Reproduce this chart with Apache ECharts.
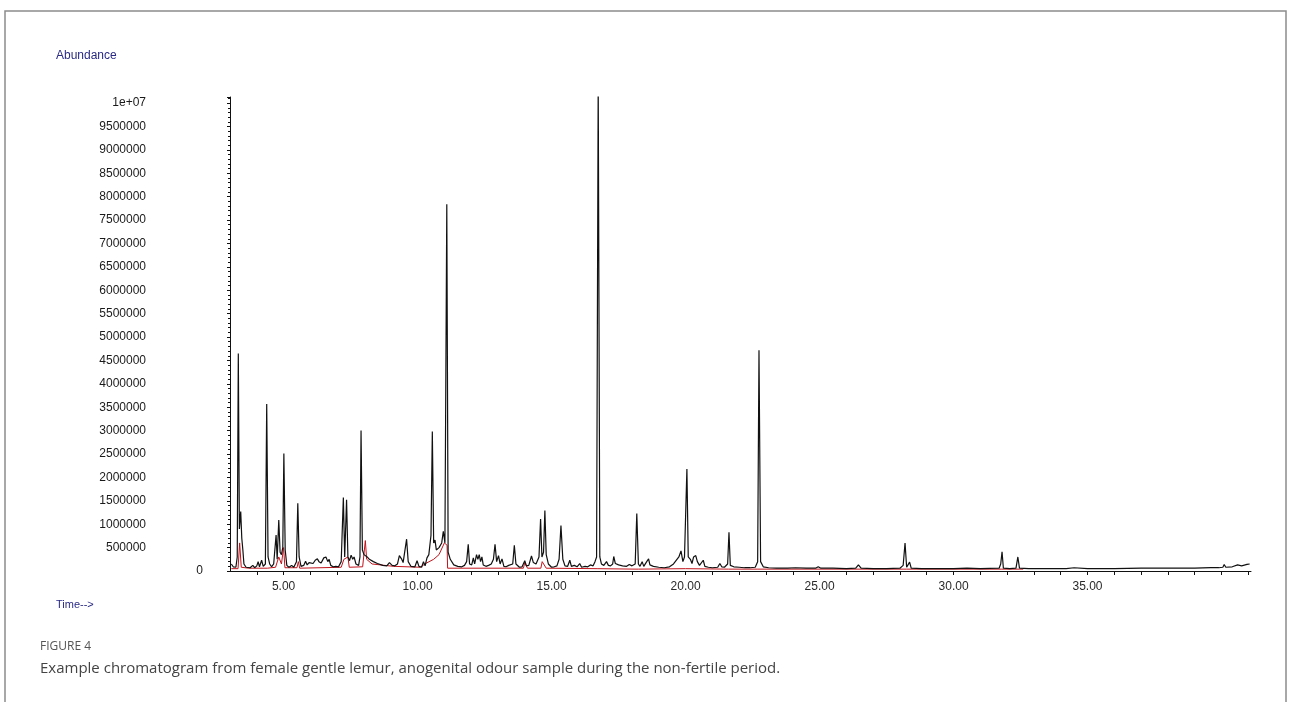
<!DOCTYPE html>
<html>
<head>
<meta charset="utf-8">
<script src="https://cdn.jsdelivr.net/npm/echarts@6/dist/echarts.min.js"></script>
<style>
html,body{margin:0;padding:0;background:#fff;}
#chart{width:1290px;height:702px;}
</style>
</head>
<body>
<div id="chart"></div>
<script>
// ---- data (time in min, abundance) ----
const chromTrace = [
[3.05,150000],[3.12,90000],[3.22,80000],[3.27,300000],[3.31,4650000],[3.35,900000],[3.40,1270000],[3.44,700000],[3.48,450000],[3.52,150000],
[3.60,80000],[3.75,70000],[3.85,120000],[3.92,70000],[4.00,110000],[4.05,200000],[4.10,90000],[4.18,230000],[4.24,100000],[4.32,150000],
[4.37,3570000],[4.42,300000],[4.48,150000],[4.55,90000],[4.63,150000],[4.69,120000],[4.72,770000],[4.76,250000],[4.82,1090000],[4.87,400000],
[4.92,350000],[4.97,500000],[5.01,2510000],[5.06,450000],[5.12,120000],[5.20,80000],[5.30,120000],[5.38,80000],[5.48,200000],[5.53,1450000],
[5.58,300000],[5.65,100000],[5.75,120000],[5.82,210000],[5.88,130000],[5.95,180000],[6.02,220000],[6.10,160000],[6.18,230000],[6.26,260000],
[6.32,200000],[6.40,170000],[6.50,280000],[6.58,300000],[6.65,200000],[6.70,250000],[6.76,120000],[6.85,90000],[6.95,100000],[7.05,90000],
[7.15,200000],[7.23,1570000],[7.28,300000],[7.35,1520000],[7.40,300000],[7.46,220000],[7.52,340000],[7.58,250000],[7.63,300000],[7.70,150000],
[7.80,120000],[7.85,300000],[7.89,3000000],[7.94,450000],[8.00,350000],[8.06,380000],[8.12,300000],[8.20,250000],[8.35,200000],[8.50,160000],
[8.70,120000],[8.85,110000],[8.95,180000],[9.05,120000],[9.15,110000],[9.25,150000],[9.32,330000],[9.40,260000],[9.46,180000],[9.52,200000],
[9.59,680000],[9.65,200000],[9.75,100000],[9.90,90000],[9.98,220000],[10.05,100000],[10.15,80000],[10.22,200000],[10.28,110000],[10.35,280000],
[10.42,350000],[10.50,760000],[10.55,2980000],[10.60,600000],[10.65,660000],[10.70,450000],[10.80,500000],[10.90,600000],[10.96,850000],[11.02,600000],
[11.09,7840000],[11.14,400000],[11.22,250000],[11.35,130000],[11.50,100000],[11.65,90000],[11.75,120000],[11.83,200000],[11.89,570000],[11.94,150000],
[12.02,130000],[12.08,280000],[12.13,150000],[12.20,350000],[12.25,250000],[12.30,350000],[12.35,200000],[12.40,300000],[12.45,130000],[12.55,100000],
[12.65,120000],[12.75,150000],[12.83,250000],[12.89,570000],[12.95,200000],[13.02,330000],[13.08,150000],[13.15,260000],[13.22,100000],[13.30,90000],
[13.40,120000],[13.55,150000],[13.61,550000],[13.67,150000],[13.80,80000],[13.90,90000],[14.00,220000],[14.06,110000],[14.15,120000],[14.25,320000],
[14.32,180000],[14.42,150000],[14.53,300000],[14.59,1110000],[14.64,300000],[14.70,400000],[14.75,1290000],[14.80,350000],[14.88,150000],[15.00,80000],
[15.10,90000],[15.20,110000],[15.28,250000],[15.35,970000],[15.42,250000],[15.50,110000],[15.60,100000],[15.68,230000],[15.74,100000],[15.85,120000],
[15.95,90000],[16.05,160000],[16.12,80000],[16.25,100000],[16.35,90000],[16.45,130000],[16.55,110000],[16.62,200000],[16.68,300000],[16.74,10500000],
[16.80,300000],[16.86,150000],[16.95,120000],[17.05,200000],[17.12,120000],[17.20,110000],[17.28,150000],[17.32,310000],[17.38,160000],[17.50,130000],
[17.65,110000],[17.80,100000],[17.90,140000],[18.00,110000],[18.12,150000],[18.18,1230000],[18.24,150000],[18.30,100000],[18.38,200000],[18.44,100000],
[18.55,200000],[18.62,260000],[18.67,130000],[18.80,100000],[19.00,80000],[19.20,70000],[19.40,90000],[19.55,150000],[19.62,120000],[19.75,300000],
[19.83,430000],[19.90,200000],[19.96,300000],[20.05,2180000],[20.10,300000],[20.18,250000],[20.24,160000],[20.30,300000],[20.38,330000],[20.44,200000],
[20.52,120000],[20.58,100000],[20.66,230000],[20.72,100000],[20.85,80000],[21.00,70000],[21.20,80000],[21.28,160000],[21.35,90000],[21.45,80000],
[21.57,150000],[21.62,830000],[21.67,120000],[21.80,90000],[22.00,80000],[22.20,70000],[22.40,70000],[22.60,80000],[22.69,200000],[22.74,4720000],
[22.80,200000],[22.90,90000],[23.10,70000],[23.40,60000],[23.80,60000],[24.10,70000],[24.50,60000],[24.85,60000],[24.95,90000],[25.05,60000],
[25.50,60000],[26.00,50000],[26.35,60000],[26.45,130000],[26.55,60000],[27.00,50000],[27.50,50000],[28.00,60000],[28.12,120000],[28.19,600000],
[28.25,80000],[28.30,100000],[28.36,190000],[28.42,60000],[28.80,50000],[29.50,50000],[30.00,50000],[30.50,60000],[31.00,50000],[31.70,60000],
[31.76,150000],[31.81,410000],[31.86,60000],[32.10,50000],[32.33,60000],[32.40,300000],[32.46,60000],[32.80,50000],[33.50,50000],[34.20,50000],
[34.50,70000],[35.00,50000],[36.00,50000],[37.00,60000],[38.00,60000],[38.50,60000],[39.00,60000],[39.60,70000],[39.90,70000],[40.05,80000],
[40.10,140000],[40.16,80000],[40.40,90000],[40.60,130000],[40.75,110000],[40.95,140000],[41.05,150000]
];
const integrationBaseline = [
[3.05,50000],[3.30,50000],[3.36,600000],[3.42,80000],[3.70,60000],[4.40,60000],[4.70,80000],[4.82,300000],[4.92,150000],[5.00,500000],
[5.05,70000],[5.50,70000],[5.55,200000],[5.60,60000],[7.15,80000],[7.25,250000],[7.40,300000],[7.45,80000],[7.95,90000],[8.05,650000],
[8.10,250000],[8.30,150000],[9.10,100000],[9.15,70000],[10.10,80000],[10.30,160000],[10.60,250000],[10.80,350000],[11.00,600000],[11.10,550000],[11.12,60000],
[13.95,60000],[14.00,180000],[14.10,60000],[14.60,60000],[14.65,200000],[14.80,60000],[16.70,50000],[18.15,40000],[18.25,40000],[20.00,50000],
[21.60,40000],[22.70,40000],[28.15,40000],[28.25,40000],[31.80,40000],[32.45,40000],[32.60,40000]
];
const xLabelValues = [5, 10, 15, 20, 25, 30, 35];
const yLabelValues = [0,500000,1000000,1500000,2000000,2500000,3000000,3500000,4000000,4500000,5000000,
  5500000,6000000,6500000,7000000,7500000,8000000,8500000,9000000,9500000,10000000];
const yLabelText = {10000000: '1e+07'};
const yAxisTitle = 'Abundance';
const xAxisTitle = 'Time-->';
const figureLabel = 'FIGURE 4';
const figureCaption = 'Example chromatogram from female gentle lemur, anogenital odour sample during the non-fertile period.';

const chart = echarts.init(document.getElementById('chart'), null, {renderer: 'canvas'});
const axisFont = 'Liberation Sans, Arial, sans-serif';
chart.setOption({
  animation: false,
  backgroundColor: '#fff',
  grid: {left: 230, right: 39, top: 97, bottom: 131, containLabel: false},
  xAxis: {
    type: 'value', min: 3, max: 41.1, interval: 1,
    axisLine: {show: true, onZero: false, lineStyle: {color: '#111', width: 1}},
    axisTick: {show: true, length: 4, lineStyle: {color: '#111'}},
    splitLine: {show: false},
    axisLabel: {
      margin: 10, color: '#2a2a2a', fontSize: 12, fontFamily: axisFont,
      showMinLabel: false, showMaxLabel: false,
      formatter: v => xLabelValues.indexOf(Math.round(v * 100) / 100) >= 0 ? v.toFixed(2) : ''
    }
  },
  yAxis: {
    type: 'value', min: 0, max: 10130000, interval: 500000,
    axisLine: {show: true, lineStyle: {color: '#111', width: 1}},
    axisTick: {show: true, length: 3, lineStyle: {color: '#111'}},
    minorTick: {show: true, splitNumber: 5, length: 2, lineStyle: {color: '#111'}},
    splitLine: {show: false},
    axisLabel: {
      margin: 27, color: '#1a1a1a', fontSize: 12, fontFamily: axisFont,
      showMaxLabel: false,
      formatter: v => {
        if (yLabelValues.indexOf(v) < 0) return '';
        if (v === 0) return '{z|0}';
        return '{n|' + (yLabelText[v] || String(v)) + '}';
      },
      rich: {
        z: {fontSize: 12, color: '#1a1a1a', fontFamily: axisFont},
        n: {fontSize: 12, color: '#1a1a1a', fontFamily: axisFont, padding: [0, 57, 0, 0]}
      }
    }
  },
  graphic: [
    {type: 'rect', silent: true, shape: {x: 5, y: 11, width: 1281, height: 720},
      style: {fill: 'none', stroke: '#8c8c8c', lineWidth: 1.5}},
    {type: 'text', left: 56, top: 50, style: {text: yAxisTitle, fill: '#2a2a86', font: '12px Liberation Sans, Arial, sans-serif'}},
    {type: 'text', left: 56, top: 599, style: {text: xAxisTitle, fill: '#2a2a86', font: '11px Liberation Sans, Arial, sans-serif'}},
    {type: 'text', left: 40, top: 641, style: {text: figureLabel, fill: '#555', font: '12px "Open Sans", sans-serif'}},
    {type: 'text', left: 40, top: 661, style: {text: figureCaption, fill: '#444', font: '15px "Open Sans", sans-serif'}}
  ],
  series: [
    {type: 'line', name: 'baseline', data: integrationBaseline, showSymbol: false, z: 1,
      lineStyle: {color: '#c0141c', width: 1}, clip: true},
    {type: 'line', name: 'TIC', data: chromTrace, showSymbol: false, z: 2,
      lineStyle: {color: '#111', width: 1.2}, clip: true}
  ]
});
</script>
</body>
</html>
